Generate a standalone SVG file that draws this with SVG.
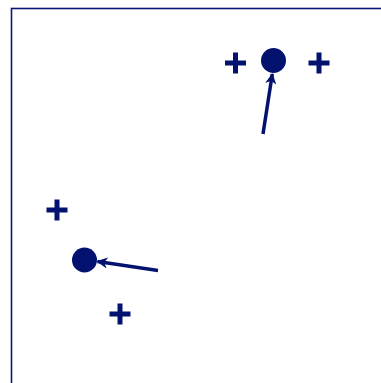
<svg xmlns="http://www.w3.org/2000/svg" width="381" height="383" viewBox="0 0 381 383">
  <defs>
    <style>
      .frame{fill:none;stroke:#0a1778;stroke-width:1.6}
      .dot{fill:#03126f}
      .plus{stroke:#03126f;stroke-width:5;fill:none}
      .edge{stroke:#03126f;stroke-width:3.5;fill:none;marker-end:url(#ah)}
    </style>
    <marker id="ah" viewBox="0 0 10 10" refX="9" refY="5" markerWidth="3.2" markerHeight="3.2" orient="auto" markerUnits="strokeWidth">
      <path d="M0,0 L10,5 L0,10 L3,5 Z" fill="#03126f"/>
    </marker>
    <path id="pl" d="M-10.5,0 H10.5 M0,-10.5 V10.5" class="plus"/>
  </defs>
  <rect x="0" y="0" width="381" height="383" fill="#ffffff"/>
  <rect class="frame" x="11.5" y="8.5" width="400" height="400"/>
  <g id="connectors">
    <line class="edge" x1="263" y1="134" x2="272.3" y2="74"/>
    <line class="edge" x1="158" y1="270.5" x2="97.5" y2="261.5"/>
  </g>
  <g id="node-top"><circle class="dot" cx="273.5" cy="60.5" r="12.5"/></g>
  <g id="node-left"><circle class="dot" cx="84.5" cy="260" r="12.5"/></g>
  <g id="plus-1"><use href="#pl" x="235.5" y="63"/></g>
  <g id="plus-2"><use href="#pl" x="319" y="63"/></g>
  <g id="plus-3"><use href="#pl" x="57" y="210"/></g>
  <g id="plus-4"><use href="#pl" x="120" y="314"/></g>
</svg>
